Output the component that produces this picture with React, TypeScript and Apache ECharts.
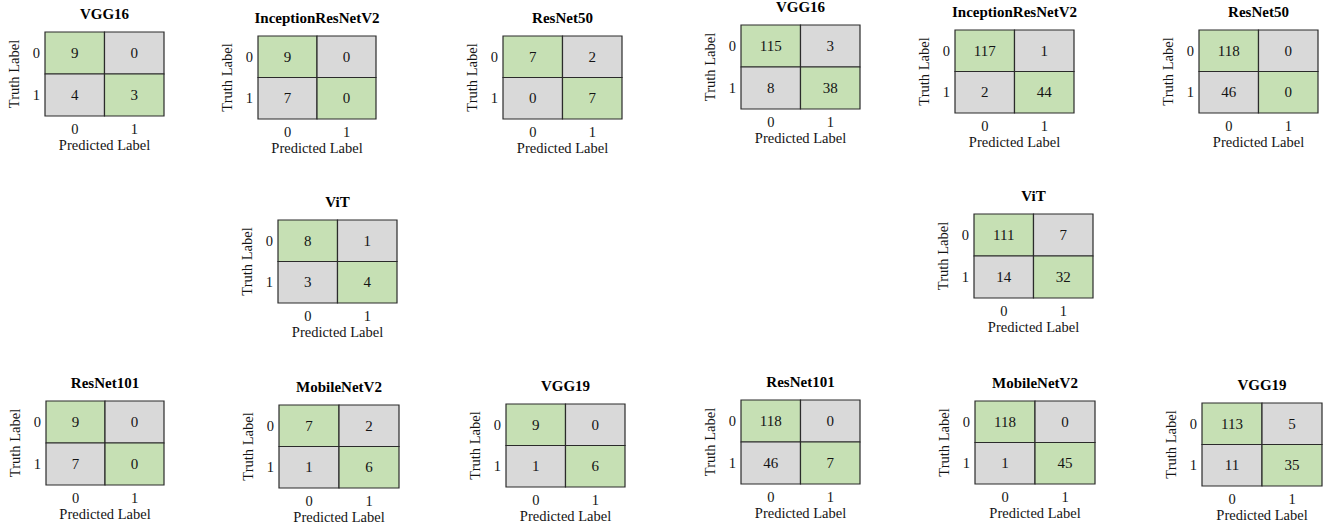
import React, { useEffect, useRef } from "react";
import * as echarts from "echarts";

// Class labels shared by every confusion matrix
const classLabels = ["0", "1"];

// Model order of each panel group
const models = ["VGG16", "InceptionResNetV2", "ResNet50", "ViT", "ResNet101", "MobileNetV2", "VGG19"];

// Confusion matrices, rows = truth label, columns = predicted label (small test set)
const smallVgg16 = [[9, 0], [4, 3]];
const smallInception = [[9, 0], [7, 0]];
const smallResNet50 = [[7, 2], [0, 7]];
const smallViT = [[8, 1], [3, 4]];
const smallResNet101 = [[9, 0], [7, 0]];
const smallMobileNet = [[7, 2], [1, 6]];
const smallVgg19 = [[9, 0], [1, 6]];

// Confusion matrices for the larger test set
const largeVgg16 = [[115, 3], [8, 38]];
const largeInception = [[117, 1], [2, 44]];
const largeResNet50 = [[118, 0], [46, 0]];
const largeViT = [[111, 7], [14, 32]];
const largeResNet101 = [[118, 0], [46, 7]];
const largeMobileNet = [[118, 0], [1, 45]];
const largeVgg19 = [[113, 5], [11, 35]];

const smallSet = [smallVgg16, smallInception, smallResNet50, smallViT, smallResNet101, smallMobileNet, smallVgg19];
const largeSet = [largeVgg16, largeInception, largeResNet50, largeViT, largeResNet101, largeMobileNet, largeVgg19];

// Plot box of each panel: [left, top, width, height]
const leftBoxes = [
  [45, 32, 119, 84],
  [258, 36, 118, 83],
  [503, 36, 119, 83],
  [278, 220, 119, 83],
  [46, 401, 118, 84],
  [279, 405, 120, 83],
  [506, 404, 119, 83],
];
const rightBoxes = [
  [741, 25, 119, 84],
  [955, 30, 119, 83],
  [1199, 30, 119, 83],
  [974, 214, 119, 84],
  [741, 400, 119, 84],
  [975, 401, 120, 83],
  [1202, 403, 120, 83],
];

const GREEN = "#c6e0b4";
const GRAY = "#d9d9d9";
const EDGE = "#2b2b2b";
const INK = "#141414";
const FONT = '"Liberation Serif", "Times New Roman", serif';

export default function App() {
  const ref = useRef<HTMLDivElement>(null);

  useEffect(() => {
    if (!ref.current) return;
    const chart = echarts.init(ref.current, null, { renderer: "svg" });

    const panels: { title: string; m: number[][]; box: number[] }[] = [];
    models.forEach((name, i) => panels.push({ title: name, m: smallSet[i], box: leftBoxes[i] }));
    models.forEach((name, i) => panels.push({ title: name, m: largeSet[i], box: rightBoxes[i] }));

    const grid: any[] = [];
    const xAxis: any[] = [];
    const yAxis: any[] = [];
    const series: any[] = [];
    const graphic: any[] = [];

    panels.forEach((p, i) => {
      const [l, t, w, h] = p.box;
      grid.push({ left: l, top: t, width: w, height: h, containLabel: false });
      xAxis.push({
        type: "category",
        gridIndex: i,
        data: classLabels,
        axisLine: { show: false },
        axisTick: { show: false },
        splitLine: { show: false },
        axisLabel: { margin: 5, fontSize: 14.5, color: INK, fontFamily: FONT },
        name: "Predicted Label",
        nameLocation: "middle",
        nameGap: 21,
        nameTextStyle: { fontSize: 14.5, color: INK, fontFamily: FONT },
      });
      yAxis.push({
        type: "category",
        gridIndex: i,
        data: classLabels,
        inverse: true,
        axisLine: { show: false },
        axisTick: { show: false },
        splitLine: { show: false },
        axisLabel: { margin: 5, fontSize: 14.5, color: INK, fontFamily: FONT },
        name: "Truth Label",
        nameLocation: "middle",
        nameRotate: 90,
        nameGap: 24,
        nameTextStyle: { fontSize: 14.5, color: INK, fontFamily: FONT },
      });
      const data: number[][] = [];
      p.m.forEach((row, r) => row.forEach((v, c) => data.push([c, r, v])));
      series.push({
        type: "custom",
        xAxisIndex: i,
        yAxisIndex: i,
        data,
        renderItem: (_params: any, api: any) => {
          const cx = api.value(0);
          const cy = api.value(1);
          const pt = api.coord([cx, cy]);
          const sz = api.size([1, 1]);
          return {
            type: "group",
            children: [
              {
                type: "rect",
                shape: { x: pt[0] - sz[0] / 2, y: pt[1] - sz[1] / 2, width: sz[0], height: sz[1] },
                style: { fill: cx === cy ? GREEN : GRAY, stroke: EDGE, lineWidth: 1.2 },
              },
              {
                type: "text",
                style: {
                  text: String(api.value(2)),
                  x: pt[0],
                  y: pt[1],
                  align: "center",
                  verticalAlign: "middle",
                  textAlign: "center",
                  textVerticalAlign: "middle",
                  font: `15px ${FONT}`,
                  fill: INK,
                },
              },
            ],
          };
        },
      });
      graphic.push({
        type: "text",
        x: l + w / 2,
        y: t - 18,
        style: {
          text: p.title,
          align: "center",
          verticalAlign: "middle",
          textAlign: "center",
          textVerticalAlign: "middle",
          font: `bold 15px ${FONT}`,
          fill: "#000",
        },
      });
    });

    chart.setOption({
      animation: false,
      backgroundColor: "#ffffff",
      grid,
      xAxis,
      yAxis,
      series,
      graphic,
    });

    return () => chart.dispose();
  }, []);

  return (
    <div
      ref={ref}
      style={{ position: "fixed", left: 0, top: 0, width: 1331, height: 529, background: "#fff" }}
    />
  );
}
